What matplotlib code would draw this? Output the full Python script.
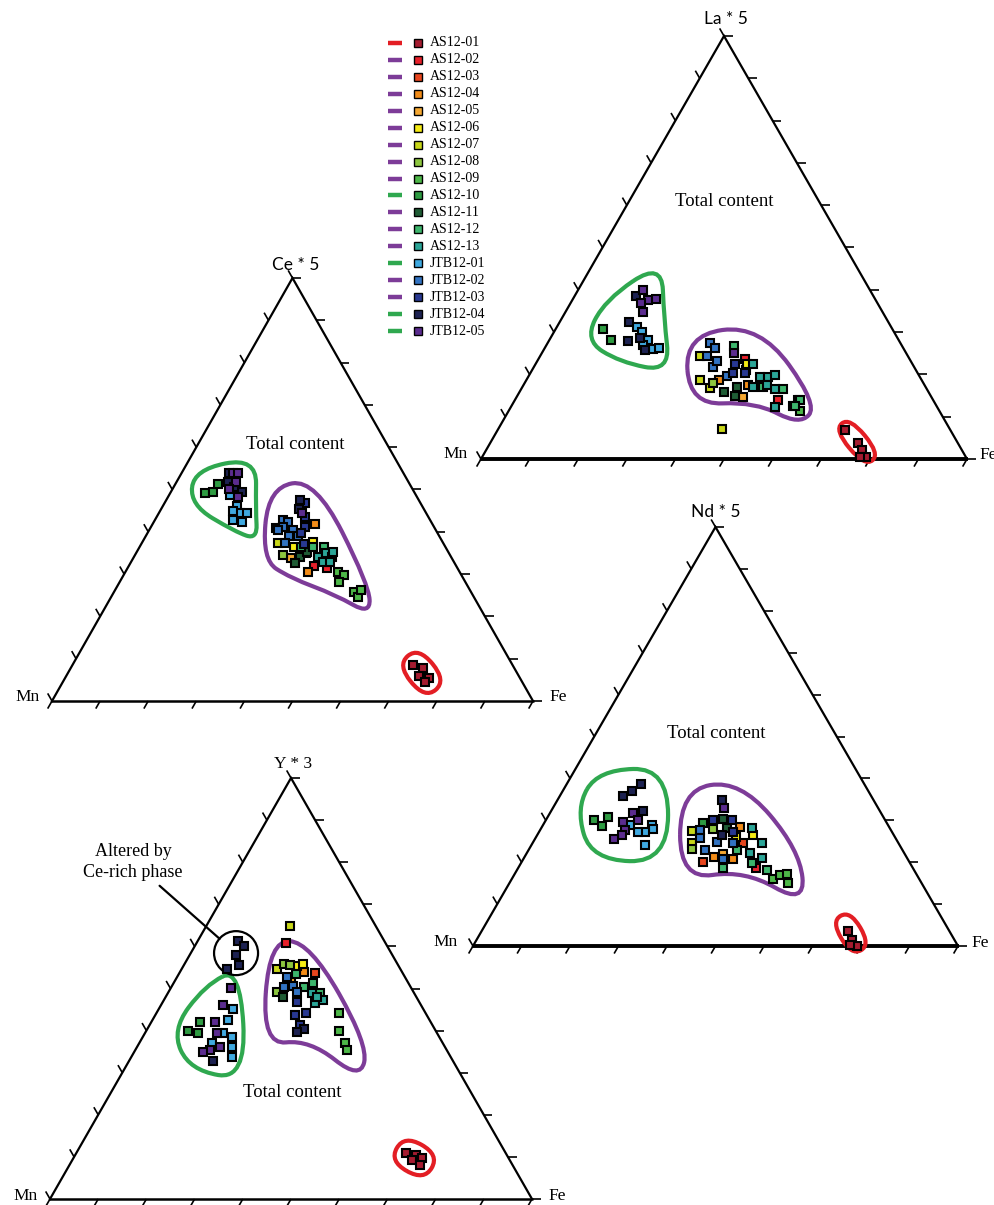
import numpy as np
import matplotlib
matplotlib.use("Agg")
import matplotlib.pyplot as plt
from matplotlib.path import Path
from matplotlib.patches import PathPatch, Ellipse

FIG_W, FIG_H = 995, 1205
SERIF = "Liberation Serif"
SANS = "Lato"

samples = ["AS12-01", "AS12-02", "AS12-03", "AS12-04", "AS12-05", "AS12-06",
           "AS12-07", "AS12-08", "AS12-09", "AS12-10", "AS12-11", "AS12-12",
           "AS12-13", "JTB12-01", "JTB12-02", "JTB12-03", "JTB12-04", "JTB12-05"]
sample_colors = ["#A51C30", "#E8202A", "#E8461E", "#F28C18", "#F5A832", "#F5EB14",
                 "#C8D719", "#8DC63F", "#4DB748", "#2E9B42", "#1F5C35", "#3DB56C",
                 "#2BA597", "#3FA9E0", "#3273C2", "#283891", "#1D2252", "#5B2C8F"]
sample_group = ["red", "purple", "purple", "purple", "purple", "purple",
                "purple", "purple", "purple", "green", "purple", "purple",
                "purple", "green", "purple", "purple", "green", "green"]
group_colors = {"red": "#E31E24", "purple": "#7D3C98", "green": "#2FA84F"}

# compositions in percent: (Fe, element), Mn = 100 - Fe - element
ce_points = {
    "AS12-01": [(70.7, 8.5), (73.2, 7.8), (73.3, 5.9), (75.6, 5.5), (75.2, 4.5)],
    "AS12-02": [(38.5, 31.8), (41.5, 31.5)],
    "AS12-03": [(35.2, 35.1)],
    "AS12-04": [(33.8, 41.9), (38.0, 30.6)],
    "AS12-05": [(32.7, 33.9)],
    "AS12-06": [(35.4, 37.7), (32.1, 36.3)],
    "AS12-07": [(28.2, 37.4)],
    "AS12-08": [(26.0, 41.0), (30.8, 34.6)],
    "AS12-09": [(44.1, 30.6), (45.7, 29.9), (45.5, 28.2), (49.8, 25.8), (51.4, 24.6), (51.0, 26.3)],
    "AS12-10": [(7.3, 49.1), (8.9, 49.3), (8.9, 51.4)],
    "AS12-11": [(34.6, 34.1), (35.4, 35.3), (34.2, 32.7)],
    "AS12-12": [(33.5, 36.5), (36.0, 36.5), (38.4, 36.3)],
    "AS12-13": [(38.3, 34.1), (39.4, 35.1), (41.2, 34.1), (39.8, 32.9), (41.4, 32.9), (40.8, 35.3)],
    "JTB12-01": [(12.7, 48.8), (15.5, 46.0), (16.9, 44.5), (16.1, 42.9), (18.4, 42.4), (18.3, 44.5), (15.3, 44.8)],
    "JTB12-02": [(26.5, 42.9), (27.8, 42.4), (27.5, 41.2), (26.8, 40.5), (29.9, 40.5), (29.8, 38.9), (31.6, 38.9), (29.8, 37.4)],
    "JTB12-03": [(32.1, 41.2), (31.8, 39.8), (33.8, 37.0), (29.2, 46.9), (31.0, 43.4)],
    "JTB12-04": [(10.0, 53.8), (10.8, 51.7), (14.8, 49.5), (12.5, 50.5), (27.8, 47.4), (28.6, 45.3)],
    "JTB12-05": [(10.7, 54.0), (11.7, 54.0), (12.3, 51.7), (11.8, 50.2), (14.6, 48.3), (29.8, 44.5)],
}
la_points = {
    "AS12-01": [(71.5, 6.9), (75.7, 3.8), (77.3, 2.1), (79.0, 0.5), (77.8, 0.5)],
    "AS12-02": [(54.1, 13.9), (42.5, 23.6)],
    "AS12-03": [(44.0, 21.0)],
    "AS12-04": [(39.7, 18.7), (46.2, 17.5)],
    "AS12-05": [(46.6, 14.7)],
    "AS12-06": [(43.5, 22.5)],
    "AS12-07": [(32.9, 24.3), (35.8, 18.7), (38.7, 16.8), (46.1, 7.1)],
    "AS12-08": [(38.7, 18.0)],
    "AS12-09": [(57.9, 12.5), (59.9, 11.3), (58.2, 13.9)],
    "AS12-10": [(9.7, 30.7), (12.6, 28.1)],
    "AS12-11": [(42.1, 15.8), (44.9, 14.9), (44.2, 17.0)],
    "AS12-12": [(38.7, 26.7), (49.5, 17.0), (53.8, 16.5), (58.6, 13.9), (58.3, 12.5)],
    "AS12-13": [(44.8, 22.5), (47.7, 19.4), (49.4, 19.4), (50.6, 19.9), (50.1, 17.5), (52.2, 16.5), (47.5, 17.0), (54.4, 12.3)],
    "JTB12-01": [(16.5, 31.2), (18.1, 30.0), (20.3, 28.1), (22.4, 26.0), (23.5, 26.2), (19.8, 27.0)],
    "JTB12-02": [(33.4, 27.4), (35.0, 26.2), (34.3, 24.3), (36.8, 21.7), (40.8, 19.6), (37.0, 23.2)],
    "JTB12-03": [(41.1, 22.5), (44.1, 20.3), (41.7, 20.3)],
    "JTB12-04": [(12.6, 38.5), (14.3, 32.4), (16.2, 27.9), (18.4, 28.6), (20.8, 25.8)],
    "JTB12-05": [(13.3, 40.0), (15.6, 37.6), (17.1, 37.8), (14.5, 36.9), (15.9, 34.8), (39.6, 25.1)],
}
nd_points = {
    "AS12-01": [(75.5, 3.6), (77.4, 1.4), (79.2, 0.0), (77.7, 0.2)],
    "AS12-02": [(49.1, 18.6)],
    "AS12-03": [(43.4, 24.6), (37.4, 20.0)],
    "AS12-04": [(40.9, 28.4), (39.1, 21.2), (43.2, 20.8)],
    "AS12-05": [(40.5, 22.0)],
    "AS12-06": [(41.2, 26.0), (44.5, 26.5)],
    "AS12-07": [(31.5, 27.4), (32.9, 24.6)],
    "AS12-08": [(33.6, 23.2), (35.5, 27.9)],
    "AS12-09": [(53.9, 16.0), (54.8, 16.9), (56.1, 17.2), (57.4, 15.0)],
    "AS12-10": [(9.9, 30.1), (12.4, 30.8), (12.3, 28.6), (32.7, 29.4)],
    "AS12-11": [(38.3, 28.2), (36.3, 30.3)],
    "AS12-12": [(42.9, 22.9), (42.2, 18.6), (47.6, 19.8), (51.5, 18.1)],
    "AS12-13": [(43.4, 28.2), (46.0, 22.2), (47.3, 24.6), (49.1, 21.0)],
    "JTB12-01": [(22.5, 28.9), (23.1, 27.9), (21.9, 27.2), (20.4, 27.2), (23.4, 24.1), (18.0, 28.9)],
    "JTB12-02": [(33.0, 27.7), (33.9, 25.8), (36.3, 22.9), (37.9, 24.8), (41.1, 20.8), (41.3, 24.6)],
    "JTB12-03": [(34.5, 30.1), (38.4, 30.1), (40.0, 27.2)],
    "JTB12-04": [(15.3, 38.7), (14.3, 37.0), (13.0, 35.8), (19.0, 32.2), (33.9, 34.8), (38.1, 26.5)],
    "JTB12-05": [(17.1, 31.7), (16.1, 29.6), (19.0, 30.1), (17.5, 27.7), (17.5, 26.5), (16.3, 25.5), (35.3, 32.9)],
}
y_points = {
    "AS12-01": [(68.4, 10.9), (70.7, 10.5), (70.5, 9.3), (72.3, 9.7), (72.8, 8.1)],
    "AS12-02": [(18.6, 60.8)],
    "AS12-03": [(28.2, 53.7)],
    "AS12-04": [(25.7, 53.9)],
    "AS12-05": [(24.0, 52.0)],
    "AS12-06": [(23.5, 55.3), (24.6, 55.8)],
    "AS12-07": [(17.4, 64.8), (19.8, 54.6)],
    "AS12-08": [(20.6, 55.8), (22.0, 55.6), (22.5, 49.2)],
    "AS12-09": [(37.9, 44.2), (40.0, 39.9), (42.7, 37.1), (43.9, 35.4)],
    "AS12-10": [(10.1, 42.0), (8.6, 39.9), (11.0, 39.4)],
    "AS12-11": [(24.3, 48.0)],
    "AS12-12": [(24.3, 53.4), (27.5, 50.4), (28.9, 51.3), (31.5, 48.9)],
    "AS12-13": [(29.9, 48.9), (31.7, 46.6), (33.0, 47.3), (31.4, 48.0)],
    "JTB12-01": [(15.4, 45.1), (15.6, 42.5), (16.2, 39.4), (18.6, 38.5), (19.8, 36.1), (15.1, 37.1), (20.9, 33.7)],
    "JTB12-02": [(22.8, 52.7), (23.3, 50.4), (25.1, 50.6), (26.6, 49.2)],
    "JTB12-03": [(27.8, 46.8), (31.0, 44.2), (28.9, 43.7), (31.2, 41.3)],
    "JTB12-04": [(8.4, 61.3), (10.2, 60.1), (9.6, 58.0), (11.4, 55.6), (9.4, 54.6), (32.5, 40.4), (31.4, 39.7), (17.4, 32.8)],
    "JTB12-05": [(12.5, 50.1), (12.9, 46.1), (13.2, 42.0), (14.9, 39.4), (17.3, 36.1), (15.5, 35.4), (14.2, 34.9)],
}

# group outlines, control polygons in the same (Fe, element) percentages
ce_outlines = {
    "green": [(2.2, 54.7), (13.7, 57.6), (19.7, 45.3), (23.6, 38.2), (18.1, 40.0), (5.5, 46.4)],
    "purple": [(19.8, 50.5), (28.6, 52.4), (52.1, 27.5), (56.0, 20.4), (46.4, 25.1), (35.0, 29.1), (27.0, 33.4)],
    "red": [(77.3, 0.5), (79.6, 4.8), (69.8, 12.8), (67.5, 8.5)],
}
la_outlines = {
    "green": [(13.9, 46.6), (21.0, 33.3), (28.6, 20.6), (17.1, 22.9), (7.3, 28.1), (6.7, 37.6)],
    "purple": [(27.3, 29.3), (41.6, 31.7), (62.9, 12.8), (61.6, 8.0), (49.7, 13.5), (36.6, 12.8)],
    "red": [(79.9, -1.8), (81.5, 1.2), (70.9, 9.9), (69.2, 6.9)],
}
nd_outlines = {
    "green": [(4.8, 42.0), (19.0, 42.5), (30.2, 20.0), (14.2, 20.5), (4.8, 32.9)],
    "purple": [(24.1, 37.2), (35.3, 39.6), (55.9, 22.9), (63.6, 9.8), (47.0, 18.1), (34.8, 15.8)],
    "red": [(79.2, -2.3), (81.8, 0.3), (73.5, 8.5), (70.9, 5.9)],
}
y_outlines = {
    "green": [(12.0, 54.9), (26.6, 28.3), (13.7, 30.6), (5.2, 40.1), (6.8, 50.8)],
    "purple": [(14.8, 61.5), (23.4, 61.0), (47.7, 36.6), (50.2, 28.3), (35.0, 37.8), (25.7, 36.6)],
    "red": [(75.5, 4.3), (75.5, 10.5), (65.9, 15.2), (65.9, 9.0)],
}
altered_center = (9.4, 58.4)
altered_radius_px = 22


def tern(fe, el):
    fe = np.asarray(fe, float)
    el = np.asarray(el, float)
    return fe + el / 2, el


def smooth_closed(pts):
    cx, cy = tern(*np.asarray(pts, float).T)
    p = np.column_stack([cx, cy])
    mids = (p + np.roll(p, -1, axis=0)) / 2
    verts = [mids[-1]]
    codes = [Path.MOVETO]
    for i in range(len(p)):
        verts += [p[i], mids[i]]
        codes += [Path.CURVE3, Path.CURVE3]
    return Path(verts, codes)


def panel(fig, origin, size, points, outlines, apex_label, apex_font, apex_off,
          mn_off, fe_off, content_xy, base_lw):
    x0, y0 = origin
    w, h = size
    s, t = w / 100, h / 100
    yb = FIG_H - y0
    ax = fig.add_axes([0, 0, 1, 1])
    ax.set_xlim(-x0 / s, (FIG_W - x0) / s)
    ax.set_ylim(-yb / t, (FIG_H - yb) / t)
    ax.axis("off")

    ax.plot([0, 50, 100], [0, 100, 0], color="black", lw=1.6, solid_joinstyle="miter")
    ax.plot([-0.3, 100.3], [0, 0], color="black", lw=base_lw, solid_capstyle="butt")
    d = 1.8
    for k in range(0, 101, 10):
        for a, b in [((k, 0), (k, -d)),
                     ((0, k), (-d, k + d)),
                     ((100 - k, k), (100 - k + d, k))]:
            xs, ys = tern([a[0], b[0]], [a[1], b[1]])
            ax.plot(xs, ys, color="black", lw=1.2, solid_capstyle="butt")

    for grp, pts in outlines.items():
        ax.add_patch(PathPatch(smooth_closed(pts), fill=False,
                               ec=group_colors[grp], lw=3.0, zorder=3))

    for name, col in zip(samples, sample_colors):
        pts = points.get(name)
        if not pts:
            continue
        cx, cy = tern(*np.asarray(pts, float).T)
        ax.plot(cx, cy, ls="none", marker="s", ms=5.8, mfc=col, mec="black",
                mew=1.5, zorder=4, clip_on=False)

    ax.annotate(apex_label, xy=(50, 100), xytext=apex_off, textcoords="offset pixels",
                ha="center", va="center", fontsize=12.5, family=apex_font)
    ax.annotate("Mn", xy=(0, 0), xytext=mn_off, textcoords="offset pixels",
                ha="right", va="center", fontsize=12.5, family=SERIF)
    ax.annotate("Fe", xy=(100, 0), xytext=fe_off, textcoords="offset pixels",
                ha="left", va="center", fontsize=12.5, family=SERIF)
    ax.text(*content_xy, "Total content", ha="center", va="center",
            fontsize=13.5, family=SERIF)
    return ax, s, t


fig = plt.figure(figsize=(FIG_W / 100, FIG_H / 100), dpi=100)
fig.patch.set_facecolor("white")

panel(fig, (52, 701), (481, 423), ce_points, ce_outlines, "Ce * 5", SANS,
      (3, 13), (-12, 4), (16, 4), (50.6, 60.7), 1.8)
panel(fig, (481, 459), (486, 423), la_points, la_outlines, "La * 5", SANS,
      (2, 17), (-13, 5), (12, 4), (50.0, 60.8), 2.8)
panel(fig, (473, 946), (485, 419), nd_points, nd_outlines, "Nd * 5", SANS,
      (0, 15), (-15, 4), (13, 3), (50.1, 50.6), 2.8)
ax_y, sy, ty = panel(fig, (50, 1199), (482, 421), y_points, y_outlines, "Y * 3", SERIF,
                     (2, 14), (-12, 3), (16, 3), (50.2, 25.2), 1.8)

cx, cy = tern(*altered_center)
ax_y.add_patch(Ellipse((cx, cy), 2 * altered_radius_px / sy, 2 * altered_radius_px / ty,
                       fill=False, ec="black", lw=1.6, zorder=3))
ax_y.annotate("Altered by\nCe-rich phase", xy=(35.2, 61.8), xytext=(17.2, 80.0),
              ha="center", va="center", fontsize=13, family=SERIF, linespacing=1.3,
              arrowprops=dict(arrowstyle="-", color="black", lw=1.6,
                              shrinkA=2, shrinkB=0))

# legend: group line, sample swatch, sample name
lg = fig.add_axes([380 / FIG_W, 1 - 340 / FIG_H, 150 / FIG_W, 306 / FIG_H])
lg.set_xlim(0, 150)
lg.set_ylim(17.53, -0.53)
lg.axis("off")
for i, (name, col, grp) in enumerate(zip(samples, sample_colors, sample_group)):
    lg.plot([8, 22], [i, i], color=group_colors[grp], lw=3.2, solid_capstyle="butt")
    lg.plot([38], [i], ls="none", marker="s", ms=5.2, mfc=col, mec="black", mew=1.0)
    lg.text(50, i, name, ha="left", va="center", fontsize=10, family=SERIF)

fig.savefig("out.png", dpi=100, facecolor="white")
